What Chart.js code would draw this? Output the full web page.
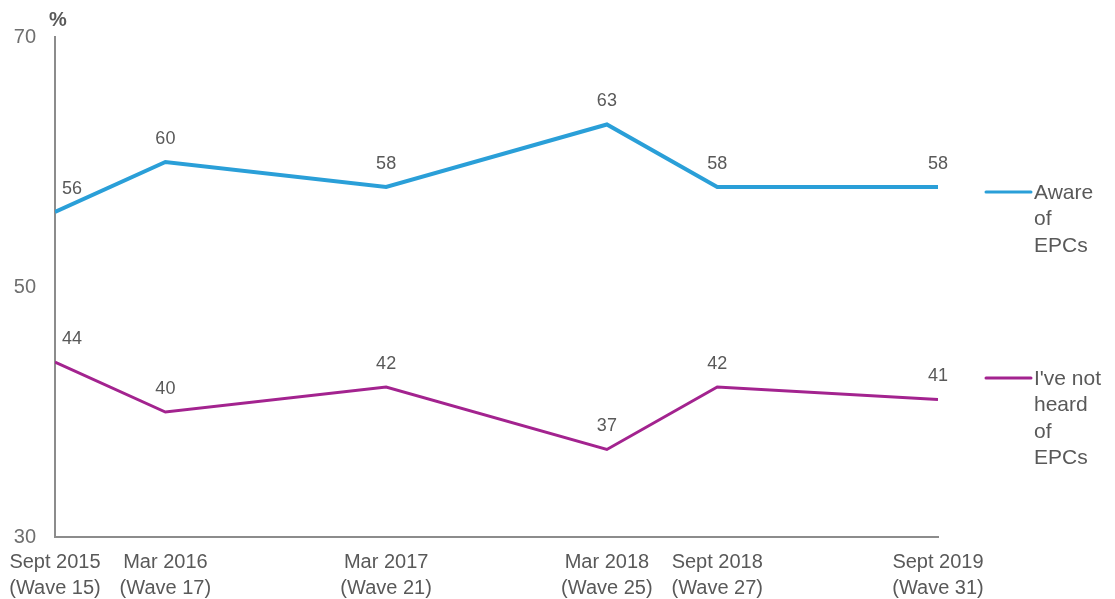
<!DOCTYPE html>
<html>
<head>
<meta charset="utf-8">
<title>EPC awareness</title>
<script src="https://cdn.jsdelivr.net/npm/chart.js@4/dist/chart.umd.min.js"></script>
<style>
    html, body { margin: 0; padding: 0; background: #fff; }
    #wrap { width: 1115px; height: 599px; position: relative; }
</style>
</head>
<body>
<div id="wrap"><canvas id="chart" width="1115" height="599"></canvas></div>
<script>
// Survey waves (months after Sept 2015, so the spacing follows real time)
const waveMonths = [0, 6, 18, 30, 36, 48];
const waveLabels = [
    ['Sept 2015', '(Wave 15)'],
    ['Mar 2016', '(Wave 17)'],
    ['Mar 2017', '(Wave 21)'],
    ['Mar 2018', '(Wave 25)'],
    ['Sept 2018', '(Wave 27)'],
    ['Sept 2019', '(Wave 31)']
];
const awareValues = [56, 60, 58, 63, 58, 58];
const notHeardValues = [44, 40, 42, 37, 42, 41];
const yTicks = [30, 50, 70];
const seriesNames = [['Aware', 'of', 'EPCs'], ["I've not", 'heard', 'of', 'EPCs']];

const FONT = "'Liberation Sans', Arial, sans-serif";
const TEXT = '#595959';
const BLUE = '#2a9fd8';
const MAGENTA = '#a3238f';

function toPoints(vals) {
    return vals.map((v, i) => ({ x: waveMonths[i], y: v }));
}

// Value labels above every point
const valueLabels = {
    id: 'valueLabels',
    afterDatasetsDraw(chart) {
        const ctx = chart.ctx;
        ctx.save();
        ctx.font = '18px ' + FONT;
        ctx.fillStyle = TEXT;
        ctx.textAlign = 'center';
        ctx.textBaseline = 'middle';
        chart.data.datasets.forEach((ds, di) => {
            chart.getDatasetMeta(di).data.forEach((pt, i) => {
                const dx = i === 0 ? 17 : 0;
                ctx.fillText(ds.data[i].y, pt.x + dx, pt.y - 23);
            });
        });
        ctx.restore();
    }
};

// Legend on the right, each entry next to its line
const sideLegend = {
    id: 'sideLegend',
    afterDraw(chart) {
        const ctx = chart.ctx;
        const tops = [192, 378];
        ctx.save();
        chart.data.datasets.forEach((ds, di) => {
            const y = tops[di];
            ctx.strokeStyle = ds.borderColor;
            ctx.lineWidth = 3;
            ctx.lineCap = 'round';
            ctx.beginPath();
            ctx.moveTo(986, y);
            ctx.lineTo(1031, y);
            ctx.stroke();
            ctx.font = '21px ' + FONT;
            ctx.fillStyle = TEXT;
            ctx.textAlign = 'left';
            ctx.textBaseline = 'middle';
            seriesNames[di].forEach((line, li) => {
                ctx.fillText(line, 1034, y + 1 + li * 26.5);
            });
        });
        // unit label
        ctx.font = 'bold 20px ' + FONT;
        ctx.fillStyle = TEXT;
        ctx.textAlign = 'left';
        ctx.fillText('%', 49, 20);
        ctx.restore();
    }
};

new Chart(document.getElementById('chart'), {
    type: 'line',
    data: {
        datasets: [{
            label: 'Aware of EPCs',
            data: toPoints(awareValues),
            borderColor: BLUE,
            borderWidth: 4,
            pointRadius: 0,
            tension: 0,
            fill: false
        }, {
            label: "I've not heard of EPCs",
            data: toPoints(notHeardValues),
            borderColor: MAGENTA,
            borderWidth: 3,
            pointRadius: 0,
            tension: 0,
            fill: false
        }]
    },
    options: {
        responsive: false,
        animation: false,
        layout: { padding: { top: 37, right: 177, left: 0, bottom: 0 } },
        plugins: {
            legend: { display: false },
            tooltip: { enabled: false }
        },
        scales: {
            x: {
                type: 'linear',
                min: 0,
                max: 48,
                grid: { display: false, drawTicks: false },
                border: { display: true, color: '#8c8c8c', width: 2 },
                afterBuildTicks(scale) {
                    scale.ticks = waveMonths.map(v => ({ value: v }));
                },
                afterFit(scale) {
                    scale.height = 62;
                    scale.paddingLeft = 0;
                    scale.paddingRight = 0;
                },
                ticks: {
                    autoSkip: false,
                    maxRotation: 0,
                    padding: 12,
                    color: TEXT,
                    font: { family: FONT, size: 20, lineHeight: 1.3 },
                    callback: (value, index) => waveLabels[index]
                }
            },
            y: {
                min: 30,
                max: 70,
                grid: { display: false, drawTicks: false },
                border: { display: true, color: '#8c8c8c', width: 2 },
                afterBuildTicks(scale) {
                    scale.ticks = yTicks.map(v => ({ value: v }));
                },
                afterFit(scale) { scale.width = 55; },
                ticks: {
                    padding: 19,
                    color: '#6f6f6f',
                    font: { family: FONT, size: 20 }
                }
            }
        }
    },
    plugins: [valueLabels, sideLegend]
});
</script>
</body>
</html>
